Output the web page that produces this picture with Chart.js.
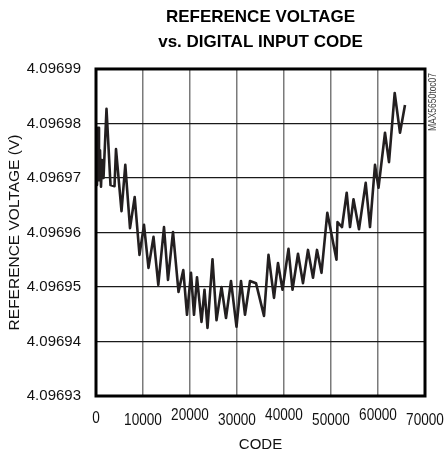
<!DOCTYPE html>
<html>
<head>
<meta charset="utf-8">
<script src="https://cdn.jsdelivr.net/npm/chart.js@4"></script>
<style>
  body { margin: 0; background: #fff; }
  canvas { display: block; }
</style>
</head>
<body>
<canvas id="chart" width="445" height="457"></canvas>
<script>
// Data
const codes = [0, 213, 426, 638, 851, 1064, 1277, 1596, 2234, 3085, 3936, 4255, 5426, 6234, 7234, 8234, 9255,
  10213, 11170, 12234, 13255, 14468, 15319, 16383, 17553, 18574, 19362, 20213, 20851, 21489, 22447, 23085, 23723,
  24787, 25638, 26702, 27660, 28723, 29894, 30851, 31702, 32766, 34043, 35745, 36702, 37872, 38723, 39681, 40957,
  41809, 42979, 44043, 45106, 46170, 47021, 47979, 49213, 51170, 51383, 52340, 53340, 54043, 54787, 55957, 57383,
  58298, 59362, 60106, 61489, 62340, 63553, 64681, 65745];
const volts = [4.0969779, 4.0969687, 4.0969792, 4.0969696, 4.0969751, 4.0969684, 4.0969733, 4.0969700, 4.0969827,
  4.0969687, 4.0969685, 4.0969753, 4.0969639, 4.0969724, 4.0969608, 4.0969665, 4.0969559,
  4.0969614, 4.0969535, 4.0969592, 4.0969504, 4.0969610, 4.0969513, 4.0969601, 4.0969491, 4.0969531, 4.0969449,
  4.0969526, 4.0969449, 4.0969518, 4.0969436, 4.0969495, 4.0969425,
  4.0969551, 4.0969439, 4.0969500, 4.0969443, 4.0969511, 4.0969427, 4.0969511, 4.0969449, 4.0969511, 4.0969507,
  4.0969447, 4.0969559, 4.0969480, 4.0969544, 4.0969495, 4.0969570,
  4.0969495, 4.0969561, 4.0969507, 4.0969568, 4.0969517, 4.0969568, 4.0969526, 4.0969636, 4.0969550, 4.0969619,
  4.0969610, 4.0969673, 4.0969610, 4.0969661, 4.0969606, 4.0969691,
  4.0969610, 4.0969724, 4.0969682, 4.0969783, 4.0969729, 4.0969856, 4.0969783, 4.0969834];
const xTicks = [0, 10000, 20000, 30000, 40000, 50000, 60000, 70000];
const yTicks = [4.09693, 4.09694, 4.09695, 4.09696, 4.09697, 4.09698, 4.09699];

const FONT = "'Liberation Sans Narrow', 'Liberation Sans', Arial, sans-serif";

const points = codes.map((c, i) => ({ x: c, y: volts[i] }));

// frame, staggered x labels, figure id
const extras = {
  id: 'extras',
  afterDraw(chart) {
    const c = chart.ctx;
    const a = chart.chartArea;
    const xs = chart.scales.x;
    c.save();
    c.strokeStyle = '#000';
    c.lineWidth = 3;
    c.strokeRect(a.left, a.top, a.right - a.left, a.bottom - a.top);

    c.fillStyle = '#111';
    c.font = '17px ' + FONT;
    c.textAlign = 'center';
    c.textBaseline = 'alphabetic';
    xTicks.forEach((t, i) => {
      let y = 423;
      if (i > 0) y = (i % 2 === 1) ? 425 : 420;
      const px = xs.getPixelForValue(t);
      c.save();
      c.translate(px, y);
      c.scale(0.8, 1);
      c.fillText(String(t), 0, 0);
      c.restore();
    });

    c.translate(433, 102);
    c.rotate(-Math.PI / 2);
    c.font = '10px ' + FONT;
    c.fillStyle = '#444';
    c.textBaseline = 'middle';
    c.scale(0.85, 1);
    c.fillText('MAX5650toc07', 0, 0);
    c.restore();
  }
};

new Chart(document.getElementById('chart').getContext('2d'), {
  type: 'line',
  data: {
    datasets: [{
      data: points,
      borderColor: '#231f20',
      borderWidth: 2.6,
      pointRadius: 0,
      tension: 0,
      borderJoinStyle: 'round',
      fill: false
    }]
  },
  options: {
    responsive: false,
    animation: false,
    devicePixelRatio: 1,
    layout: { padding: { left: 0, right: 20, top: 0, bottom: 0 } },
    plugins: {
      legend: { display: false },
      tooltip: { enabled: false },
      title: {
        display: true,
        fullSize: false,
        text: ['REFERENCE VOLTAGE', 'vs. DIGITAL INPUT CODE'],
        color: '#000',
        font: { family: FONT, size: 17, weight: 'bold', lineHeight: 1.47 },
        padding: { top: 4.5, bottom: 14.5 }
      }
    },
    scales: {
      x: {
        type: 'linear',
        min: 0,
        max: 70000,
        afterFit(s) { s.height = 61; },
        afterBuildTicks(s) { s.ticks = xTicks.map(v => ({ value: v })); },
        grid: { color: '#7a7a7a', lineWidth: 1.5, drawTicks: false },
        border: { display: false },
        ticks: { display: false },
        title: {
          display: true,
          text: 'CODE',
          color: '#111',
          font: { family: FONT, size: 15 },
          padding: { top: 0, bottom: 3 }
        }
      },
      y: {
        type: 'linear',
        min: 4.09693,
        max: 4.09699,
        afterFit(s) { s.width = 96; },
        afterBuildTicks(s) { s.ticks = yTicks.map(v => ({ value: v })); },
        grid: { color: '#1a1a1a', lineWidth: 1.3, drawTicks: false },
        border: { display: false },
        ticks: {
          padding: 15,
          color: '#111',
          font: { family: FONT, size: 15 },
          callback: v => Number(v).toFixed(5)
        },
        title: {
          display: true,
          text: 'REFERENCE VOLTAGE (V)',
          color: '#111',
          font: { family: FONT, size: 15.5 },
          padding: { top: 5, bottom: 0 }
        }
      }
    }
  },
  plugins: [extras]
});
</script>
</body>
</html>
